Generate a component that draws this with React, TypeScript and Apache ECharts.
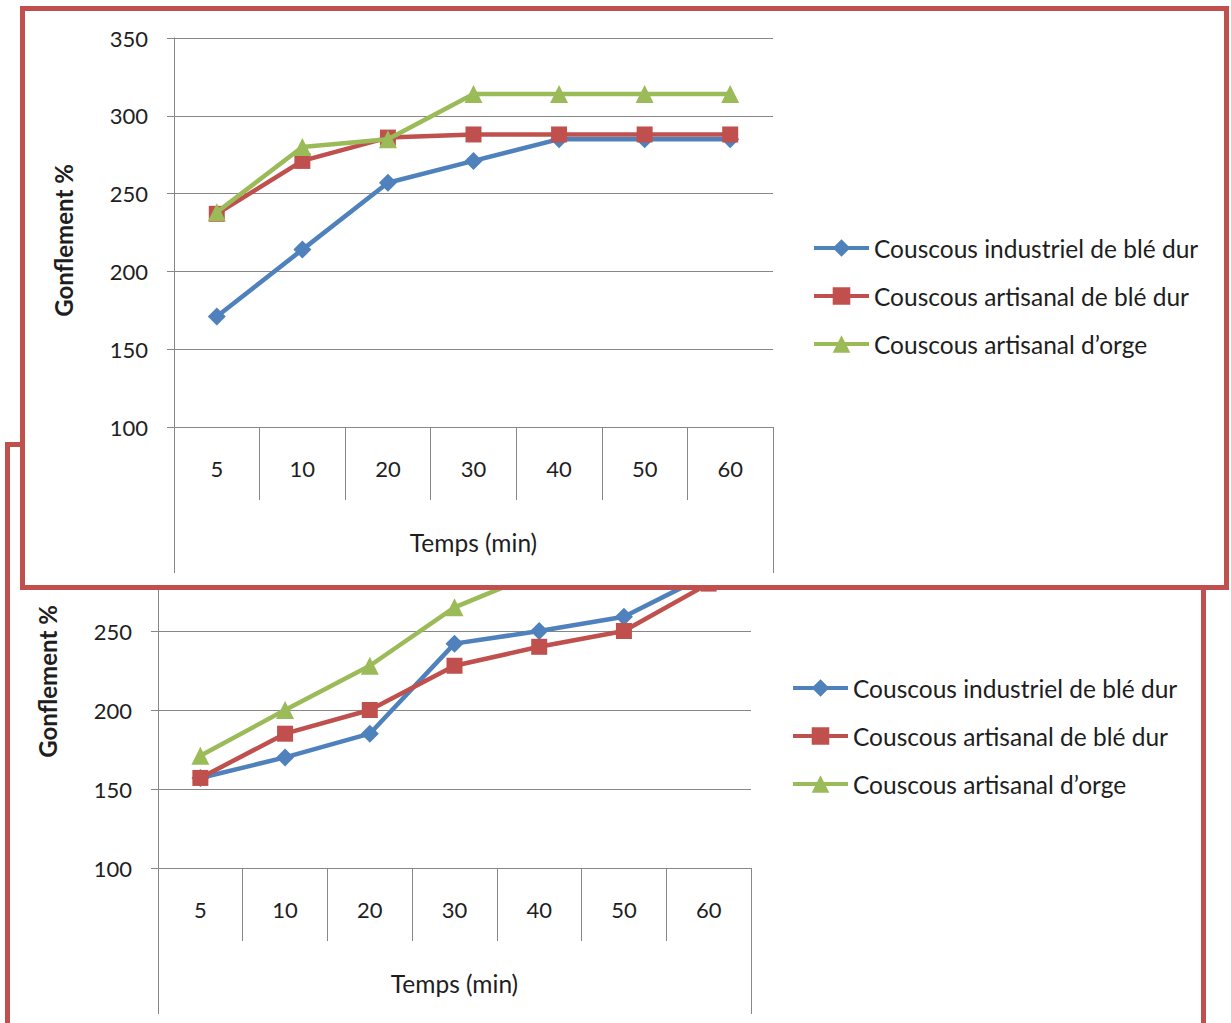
import React, { useEffect, useRef } from 'react';
import * as echarts from 'echarts';

const categories = ['5', '10', '20', '30', '40', '50', '60'];
const seriesNames = [
  'Couscous industriel de blé dur',
  'Couscous artisanal de blé dur',
  'Couscous artisanal d\u2019orge',
];
const xAxisTitle = 'Temps (min)';
const yAxisTitle = 'Gonflement %';
const yMin = 100;
const yMax = 350;
const yStep = 50;

// top chart
const topIndustriel = [171, 214, 257, 271, 285, 285, 285];
const topArtisanalBle = [237, 271, 286, 288, 288, 288, 288];
const topOrge = [238, 280, 285, 314, 314, 314, 314];

// bottom chart
const bottomIndustriel = [157, 170, 185, 242, 250, 259, 286];
const bottomArtisanalBle = [157, 185, 200, 228, 240, 250, 280];
const bottomOrge = [171, 200, 228, 265, 287, 300, 314];

const colors = ['#4F81BD', '#C0504D', '#9BBB59'];
const symbols = ['diamond', 'rect', 'triangle'];
const symbolSizes = [18, 16, 18];
const gridColor = '#878787';
const textColor = '#1e1e1e';
const font = 'Lato';

function buildOption(cfg: {
  left: number; top: number; width: number; height: number;
  legendLeft: number; legendTop: number; titleShift: number; data: number[][];
}) {
  return {
    animation: false,
    textStyle: { fontFamily: font },
    grid: { left: cfg.left, top: cfg.top, width: cfg.width, height: cfg.height, containLabel: false },
    legend: {
      orient: 'vertical',
      left: cfg.legendLeft,
      top: cfg.legendTop,
      padding: 0,
      itemWidth: 55,
      itemHeight: 22,
      itemGap: 22,
      lineStyle: { width: 4 },
      textStyle: { fontSize: 24.5, color: textColor, fontFamily: font, lineHeight: 26 },
      data: seriesNames,
    },
    xAxis: [
      {
        type: 'category',
        data: categories,
        boundaryGap: true,
        axisLine: { show: true, lineStyle: { color: gridColor, width: 1 } },
        axisTick: { show: true, interval: 0, alignWithLabel: false, length: 73, lineStyle: { color: gridColor, width: 1 } },
        axisLabel: { interval: 0, margin: 29, fontSize: 22, lineHeight: 24, color: textColor, fontFamily: font },
        splitLine: { show: false },
      },
      {
        type: 'category',
        data: [xAxisTitle],
        position: 'bottom',
        offset: 73,
        boundaryGap: true,
        axisLine: { show: false },
        axisTick: { show: true, interval: 0, alignWithLabel: false, length: 73, lineStyle: { color: gridColor, width: 1 } },
        axisLabel: { interval: 0, margin: 29, fontSize: 24.5, lineHeight: 26, color: textColor, fontFamily: font },
        splitLine: { show: false },
      },
    ],
    yAxis: {
      type: 'value',
      min: yMin,
      max: yMax,
      interval: yStep,
      name: yAxisTitle,
      nameLocation: 'middle',
      nameGap: 99,
      nameTextStyle: {
        fontSize: 24, fontWeight: 'bold', color: textColor, fontFamily: font,
        padding: [0, cfg.titleShift, 0, 0],
      },
      axisLine: { show: true, lineStyle: { color: gridColor, width: 1 } },
      axisTick: { show: true, length: 7, lineStyle: { color: gridColor, width: 1 } },
      axisLabel: { margin: 26, fontSize: 22, color: textColor, fontFamily: font },
      splitLine: { show: true, lineStyle: { color: gridColor, width: 1 } },
    },
    series: cfg.data.map((d, i) => ({
      name: seriesNames[i],
      type: 'line',
      xAxisIndex: 0,
      data: d,
      symbol: symbols[i],
      symbolSize: symbolSizes[i],
      showAllSymbol: true,
      lineStyle: { color: colors[i], width: 4.5 },
      itemStyle: { color: colors[i] },
      z: 2 + i,
    })),
  };
}

export default function App() {
  const topRef = useRef<HTMLDivElement>(null);
  const bottomRef = useRef<HTMLDivElement>(null);

  useEffect(() => {
    const bottom = echarts.init(bottomRef.current!, undefined, { renderer: 'svg' });
    bottom.setOption(buildOption({
      left: 148, top: 26, width: 593, height: 395,
      legendLeft: 781, legendTop: 228, titleShift: 22,
      data: [bottomIndustriel, bottomArtisanalBle, bottomOrge],
    }));
    const top = echarts.init(topRef.current!, undefined, { renderer: 'svg' });
    top.setOption(buildOption({
      left: 149, top: 27, width: 599, height: 389,
      legendLeft: 787, legendTop: 224, titleShift: 16,
      data: [topIndustriel, topArtisanalBle, topOrge],
    }));
    return () => {
      bottom.dispose();
      top.dispose();
    };
  }, []);

  const border = '5px solid #C0504D';
  return (
    <div style={{ position: 'fixed', left: 0, top: 0, width: 1231, height: 1023, overflow: 'hidden', background: '#fff' }}>
      <div style={{ position: 'absolute', left: 5, top: 442, width: 1201, height: 700, border, boxSizing: 'border-box', background: '#fff', zIndex: 1 }}>
        <div ref={bottomRef} style={{ width: 1191, height: 690 }} />
      </div>
      <div style={{ position: 'absolute', left: 20, top: 6, width: 1209, height: 584, border, boxSizing: 'border-box', background: '#fff', zIndex: 2 }}>
        <div ref={topRef} style={{ width: 1199, height: 574 }} />
      </div>
    </div>
  );
}
